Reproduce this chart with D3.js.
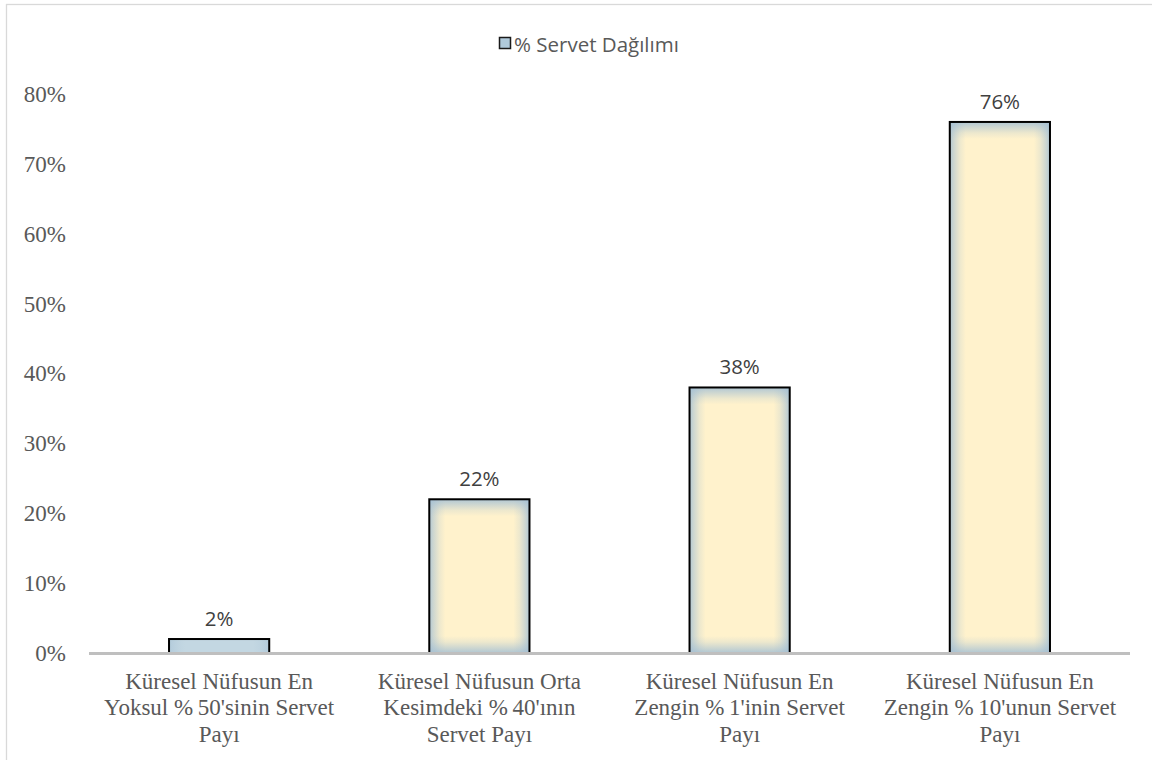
<!DOCTYPE html>
<html>
<head>
<meta charset="utf-8">
<script src="https://cdn.jsdelivr.net/npm/d3@7/dist/d3.min.js"></script>
<style>
  html, body { margin: 0; padding: 0; background: #ffffff; }
  svg { display: block; }
</style>
</head>
<body>
<svg id="chart" width="1152" height="760"></svg>
<script>
const categories = [
  ["Küresel Nüfusun En", "Yoksul %50'sinin Servet", "Payı"],
  ["Küresel Nüfusun Orta", "Kesimdeki %40'ının", "Servet Payı"],
  ["Küresel Nüfusun En", "Zengin %1'inin Servet", "Payı"],
  ["Küresel Nüfusun En", "Zengin %10'unun Servet", "Payı"]
];
const values = [2, 22, 38, 76];
const valueLabels = ["2%", "22%", "38%", "76%"];
const yTicks = [0, 10, 20, 30, 40, 50, 60, 70, 80];
const seriesName = "% Servet Dağılımı";

const SERIF = "'Liberation Serif', 'DejaVu Serif', 'Noto Serif', Tinos, 'Times New Roman', serif";
const SANS = "'Open Sans', 'Noto Sans', sans-serif";

const svg = d3.select("#chart");
const plot = { left: 89, right: 1130, top: 94, bottom: 653 };

svg.append("rect")
  .attr("x", 6.5).attr("y", 4.5)
  .attr("width", 1160).attr("height", 800)
  .attr("fill", "#ffffff").attr("stroke", "#D9D9D9").attr("stroke-width", 1.3);

const x = d3.scaleBand()
  .domain(d3.range(categories.length))
  .range([plot.left, plot.right])
  .paddingInner(0.615).paddingOuter(0.3075);

const y = d3.scaleLinear().domain([0, 80]).range([plot.bottom, plot.top]);

const defs = svg.append("defs");
const edge = "#A3BFD4", center = "#FFF2CC";

const yAxis = d3.axisLeft(y).tickValues(yTicks).tickFormat(d => d + "%").tickSize(0).tickPadding(0);
const yg = svg.append("g").attr("transform", `translate(66,0)`).call(yAxis);
yg.select(".domain").remove();
yg.attr("font-family", null).attr("font-size", null);
yg.selectAll("text")
  .style("font-family", SERIF)
  .style("font-size", "23px").attr("fill", "#595959");

const bars = svg.append("g");
values.forEach((v, i) => {
  const bx = x(i), bw = x.bandwidth();
  const by = y(v), bh = y(0) - y(v);
  const hg = defs.append("linearGradient").attr("id", "hg" + i)
    .attr("x1", 0).attr("x2", 1).attr("y1", 0).attr("y2", 0);
  [[0, 0.85], [0.04, 0.55], [0.1, 0.2], [0.16, 0], [0.84, 0], [0.9, 0.2], [0.96, 0.55], [1, 0.85]].forEach(s =>
    hg.append("stop").attr("offset", s[0]).attr("stop-color", edge).attr("stop-opacity", s[1]));
  const vg = defs.append("linearGradient").attr("id", "vg" + i)
    .attr("x1", 0).attr("x2", 0).attr("y1", 0).attr("y2", 1);
  const u = Math.min(1 / 6, 1 / bh);
  [[0, 0.85], [5 * u, 0.55], [11 * u, 0.2], [17 * u, 0], [1 - 17 * u, 0], [1 - 11 * u, 0.2], [1 - 5 * u, 0.55], [1, 0.85]]
    .filter(s => s[0] >= 0 && s[0] <= 1)
    .forEach(s =>
      vg.append("stop").attr("offset", s[0]).attr("stop-color", edge).attr("stop-opacity", s[1]));

  const small = bh < 40;
  bars.append("rect").attr("x", bx).attr("y", by).attr("width", bw).attr("height", bh)
    .attr("fill", small ? "#C3D7E2" : center);
  bars.append("rect").attr("x", bx).attr("y", by).attr("width", bw).attr("height", bh)
    .attr("fill", `url(#hg${i})`).attr("opacity", small ? 0.6 : 1);
  if (!small) {
    bars.append("rect").attr("x", bx).attr("y", by).attr("width", bw).attr("height", bh).attr("fill", `url(#vg${i})`);
  }
  bars.append("rect").attr("x", bx).attr("y", by).attr("width", bw).attr("height", bh)
    .attr("fill", "none").attr("stroke", "#000000").attr("stroke-width", 2);

  svg.append("text")
    .style("font-family", SANS)
    .attr("x", bx + bw / 2).attr("y", by - 21)
    .attr("text-anchor", "middle").attr("dominant-baseline", "central")
    .style("font-size", "20.5px").attr("fill", "#404040")
    .text(valueLabels[i]);
});

svg.append("line")
  .attr("x1", plot.left).attr("x2", plot.right)
  .attr("y1", y(0) + 0.5).attr("y2", y(0) + 0.5)
  .attr("stroke", "#BFBFBF").attr("stroke-width", 3);

categories.forEach((lines, i) => {
  const t = svg.append("text")
    .style("font-family", SERIF)
    .attr("text-anchor", "middle")
    .style("font-size", "23px").attr("fill", "#595959");
  lines.forEach((ln, j) => {
    t.append("tspan")
      .attr("x", x(i) + x.bandwidth() / 2)
      .attr("y", 681 + j * 26.5)
      .attr("dominant-baseline", "central")
      .text(ln.replace("%", "%\u2009"));
  });
});

const lg = svg.append("g");
lg.append("rect").attr("x", 499.5).attr("y", 37.5).attr("width", 11).attr("height", 11)
  .attr("fill", "#B0CADB").attr("stroke", "#1a1a1a").attr("stroke-width", 1.5);
lg.append("text").style("font-family", SANS).attr("x", 514).attr("y", 43.5)
  .attr("dominant-baseline", "central")
  .style("font-size", "20.5px").attr("fill", "#595959")
  .text(seriesName);
</script>
</body>
</html>
